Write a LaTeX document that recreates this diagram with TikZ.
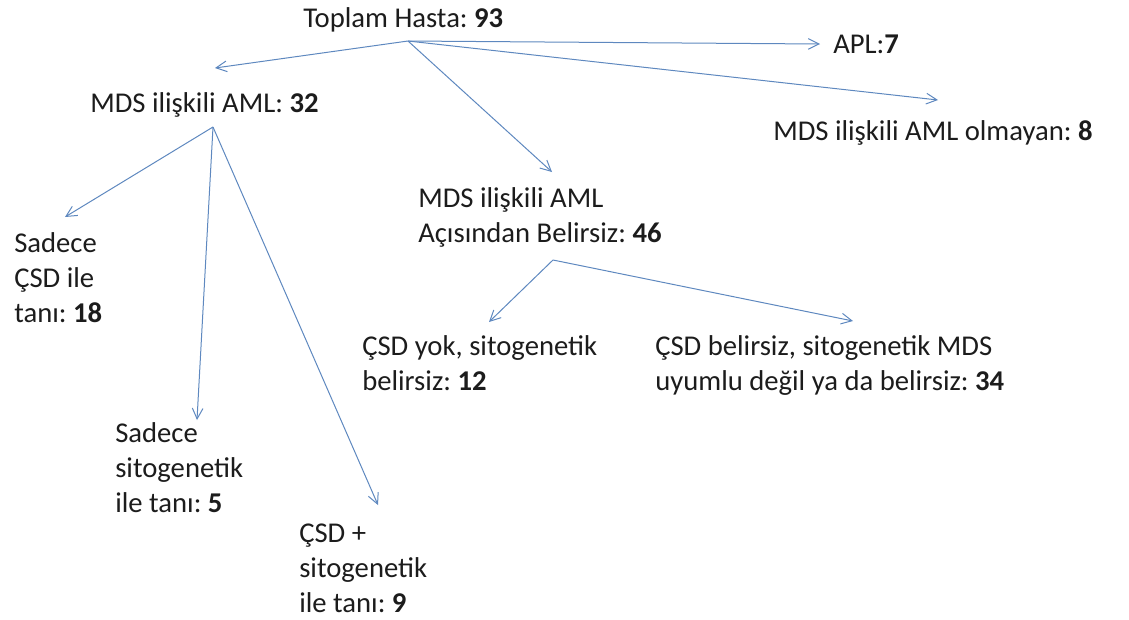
\documentclass[tikz,border=0pt]{standalone}
\usepackage{fontspec}
\setmainfont{Carlito}
\usetikzlibrary{arrows.meta}
\definecolor{linkblue}{HTML}{5E88BF}
\definecolor{inktext}{HTML}{1C1C1C}
\frenchspacing
\begin{document}
\begin{tikzpicture}[x=0.75pt,y=-0.75pt,
  every node/.style={anchor=base west,inner sep=0pt,align=left,text=inktext,
    font=\fontsize{21.5}{26.25}\selectfont},
  link/.style={draw=linkblue,line width=0.75pt,
    -{Straight Barb[length=8pt,width=8pt]}}]
\useasboundingbox (0,0) rectangle (1129,619);
\node (total)   at (303,27)  {Toplam Hasta: \textbf{93}};
\node (apl)     at (833,53)  {APL:\textbf{7}};
\node (mds32)   at (90,112)  {MDS ilişkili AML: \textbf{32}};
\node (olmayan) at (773,140) {MDS ilişkili AML olmayan: \textbf{8}};
\node (mds46)   at (418,242) {MDS ilişkili AML\\Açısından Belirsiz: \textbf{46}};
\node (csd18)   at (14,322)  {Sadece\\ÇSD ile\\tanı: \textbf{18}};
\node (yok12)   at (362,390) {ÇSD yok, sitogenetik\\belirsiz: \textbf{12}};
\node (bel34)   at (655,390) {ÇSD belirsiz, sitogenetik MDS\\uyumlu değil ya da belirsiz: \textbf{34}};
\node (sito5)   at (115,512) {Sadece\\sitogenetik\\ile tanı: \textbf{5}};
\node (csd9)    at (299,612) {ÇSD +\\sitogenetik\\ile tanı: \textbf{9}};

\coordinate (total-fork) at (408,41);
\coordinate (mds32-fork) at (213,127);
\coordinate (mds46-fork) at (553,260);
\coordinate (mds32-in)   at (215,68);
\coordinate (apl-in)     at (820,44);
\coordinate (olmayan-in) at (938,100);
\coordinate (mds46-in)   at (552,172);
\coordinate (csd18-in)   at (65,217);
\coordinate (sito5-in)   at (197,420);
\coordinate (csd9-in)    at (378,505);
\coordinate (yok12-in)   at (489,322);
\coordinate (bel34-in)   at (853,321);

\draw[link] (total-fork) -- (mds32-in);
\draw[link] (total-fork) -- (apl-in);
\draw[link] (total-fork) -- (olmayan-in);
\draw[link] (total-fork) -- (mds46-in);
\draw[link] (mds32-fork) -- (csd18-in);
\draw[link] (mds32-fork) -- (sito5-in);
\draw[link] (mds32-fork) -- (csd9-in);
\draw[link] (mds46-fork) -- (yok12-in);
\draw[link] (mds46-fork) -- (bel34-in);
\end{tikzpicture}
\end{document}
